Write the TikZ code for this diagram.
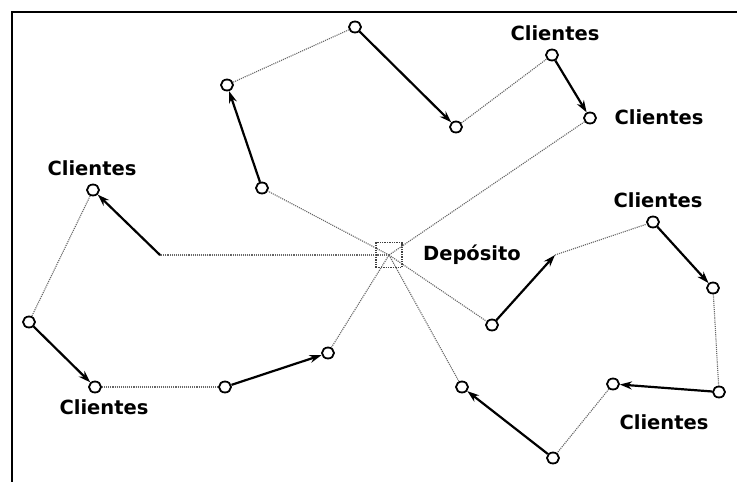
\documentclass[tikz,border=0pt]{standalone}
\usepackage{fontspec}
\setmainfont{DejaVu Sans}
\usetikzlibrary{shapes.geometric,arrows.meta}
\begin{document}
\begin{tikzpicture}[x=1pt,y=-1pt,
  cli/.style={ellipse,draw=black,line width=1.8pt,fill=white,minimum width=12pt,minimum height=11pt,inner sep=0pt},
  dep/.style={rectangle,draw=black!75,densely dotted,line width=1.4pt,minimum width=26pt,minimum height=25pt,inner sep=0pt},
  lbl/.style={font=\fontsize{19.5}{22}\selectfont\bfseries,inner sep=0pt},
  link/.style={draw=black!60,densely dotted,line width=1.1pt},
  go/.style={draw=black,line width=2.2pt,-{Stealth[length=12pt,width=8pt]}},
  frame/.style={draw=black,line width=2.4pt}]
\useasboundingbox (0,0) rectangle (737,482);
\draw[frame] (12,482) -- (12,12) -- (737,12);
% depot
\node[dep] (D) at (389,255) {};
\node[lbl] (Dl) at (472,255) {Depósito};
% top route
\node[cli] (t1) at (262,188) {};
\node[cli] (t2) at (227,85) {};
\node[cli] (t3) at (355,27) {};
\node[cli] (t4) at (456,127) {};
\node[cli] (t5) at (552,55) {};
\node[cli] (t6) at (590,118) {};
% left route
\coordinate (lc) at (160,255);
\node[cli] (l1) at (93,190) {};
\node[cli] (l2) at (29,322) {};
\node[cli] (l3) at (95,387) {};
\node[cli] (l4) at (225,387) {};
\node[cli] (l5) at (328,353) {};
% right route
\node[cli] (r1) at (492,325) {};
\coordinate (rc) at (555,255);
\node[cli] (r2) at (653,222) {};
\node[cli] (r3) at (713,288) {};
\node[cli] (r4) at (719,392) {};
\node[cli] (r5) at (613,384) {};
\node[cli] (r6) at (553,458) {};
\node[cli] (r7) at (462,387) {};
% labels
\node[lbl] (c1) at (555,33) {Clientes};
\node[lbl] (c2) at (659,117) {Clientes};
\node[lbl] (c3) at (658,200) {Clientes};
\node[lbl] (c4) at (92,168) {Clientes};
\node[lbl] (c5) at (104,407) {Clientes};
\node[lbl] (c6) at (664,422) {Clientes};
% dotted links
\path[link] (D.center) -- (t1);
\path[link] (t2) -- (t3);
\path[link] (t4) -- (t5);
\path[link] (t6) -- (D.center);
\path[link] (D.center) -- (lc);
\path[link] (l1) -- (l2);
\path[link] (l3) -- (l4);
\path[link] (l5) -- (D.center);
\path[link] (D.center) -- (r1);
\path[link] (rc) -- (r2);
\path[link] (r3) -- (r4);
\path[link] (r5) -- (r6);
\path[link] (r7) -- (D.center);
% arrows
\path[go] (t1) -- (t2);
\path[go] (t3) -- (t4);
\path[go] (t5) -- (t6);
\path[go] (lc) -- (l1);
\path[go] (l2) -- (l3);
\path[go] (l4) -- (l5);
\path[go] (r1) -- (rc);
\path[go] (r2) -- (r3);
\path[go] (r4) -- (r5);
\path[go] (r6) -- (r7);
\end{tikzpicture}
\end{document}
